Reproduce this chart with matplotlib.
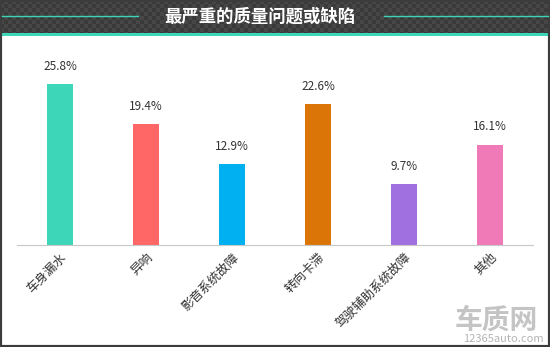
import numpy as np
import matplotlib.pyplot as plt
from matplotlib.patches import Rectangle

plt.rcParams['font.family'] = ['Noto Sans CJK SC', 'DejaVu Sans']

categories = ['车身漏水', '异响', '影音系统故障', '转向卡滞', '驾驶辅助系统故障', '其他']
values = [25.8, 19.4, 12.9, 22.6, 9.7, 16.1]
colors = ['#3dd6b8', '#ff6666', '#00b0f0', '#dc7508', '#a070e0', '#f07ab8']
title = '最严重的质量问题或缺陷'

W, H = 550, 347
fig = plt.figure(figsize=(W / 100, H / 100), dpi=100)
fig.patch.set_facecolor('white')

# title bar with a faint checker pattern
bar_ax = fig.add_axes([0, 1 - 34 / H, 1, 34 / H])
yy, xx = np.mgrid[0:34, 0:W]
checker = ((xx // 4 + yy // 4) % 2).astype(float)
bar_ax.imshow(checker, cmap=plt.matplotlib.colors.ListedColormap(['#3a3a3a', '#474747']),
              aspect='auto', interpolation='nearest')
bar_ax.axis('off')

fig.add_artist(Rectangle((0, 1 - 36 / H), 1, 3 / H, transform=fig.transFigure,
                         facecolor='#3dd6b8', edgecolor='none'))
for x0, x1 in [(2, 138), (384, 548)]:
    fig.add_artist(plt.Line2D([x0 / W, x1 / W], [1 - 16 / H] * 2, color='#3dd6b8', lw=1))
fig.add_artist(Rectangle((0, 0), 1, 1, transform=fig.transFigure,
                         facecolor='none', edgecolor='#3c3c3c', lw=3))
fig.text(260 / W, 1 - 17 / H, title, color='white', fontsize=12.5, fontweight='bold',
         ha='center', va='center')

ax = fig.add_axes([17 / W, 102 / H, 516 / W, 205 / H])
x = range(len(categories))
bars = ax.bar(x, values, width=0.31, color=colors)
for b, v in zip(bars, values):
    ax.text(b.get_x() + b.get_width() / 2, v + 1.8, f'{v}%', ha='center', va='bottom',
            fontsize=8.5, color='#333333')

ax.set_xlim(-0.5, 5.5)
ax.set_ylim(0, 32.85)
ax.set_yticks([])
ax.set_xticks(list(x))
ax.set_xticklabels(categories, rotation=45, ha='right', rotation_mode='anchor',
                   fontsize=9, color='#333333')
ax.tick_params(axis='x', length=0, pad=4)
for s in ['top', 'left', 'right']:
    ax.spines[s].set_visible(False)
ax.spines['bottom'].set_color('#c8c8c8')

# watermark
fig.text(496 / W, 1 - 321 / H, '车质网', color='#c4c4c4', fontsize=20, fontweight='bold',
         ha='center', va='center')
fig.text(503 / W, 1 - 339 / H, '12365auto.com', color='#b4b4b4', fontsize=8,
         ha='center', va='center')

fig.savefig('out.png', dpi=100)
